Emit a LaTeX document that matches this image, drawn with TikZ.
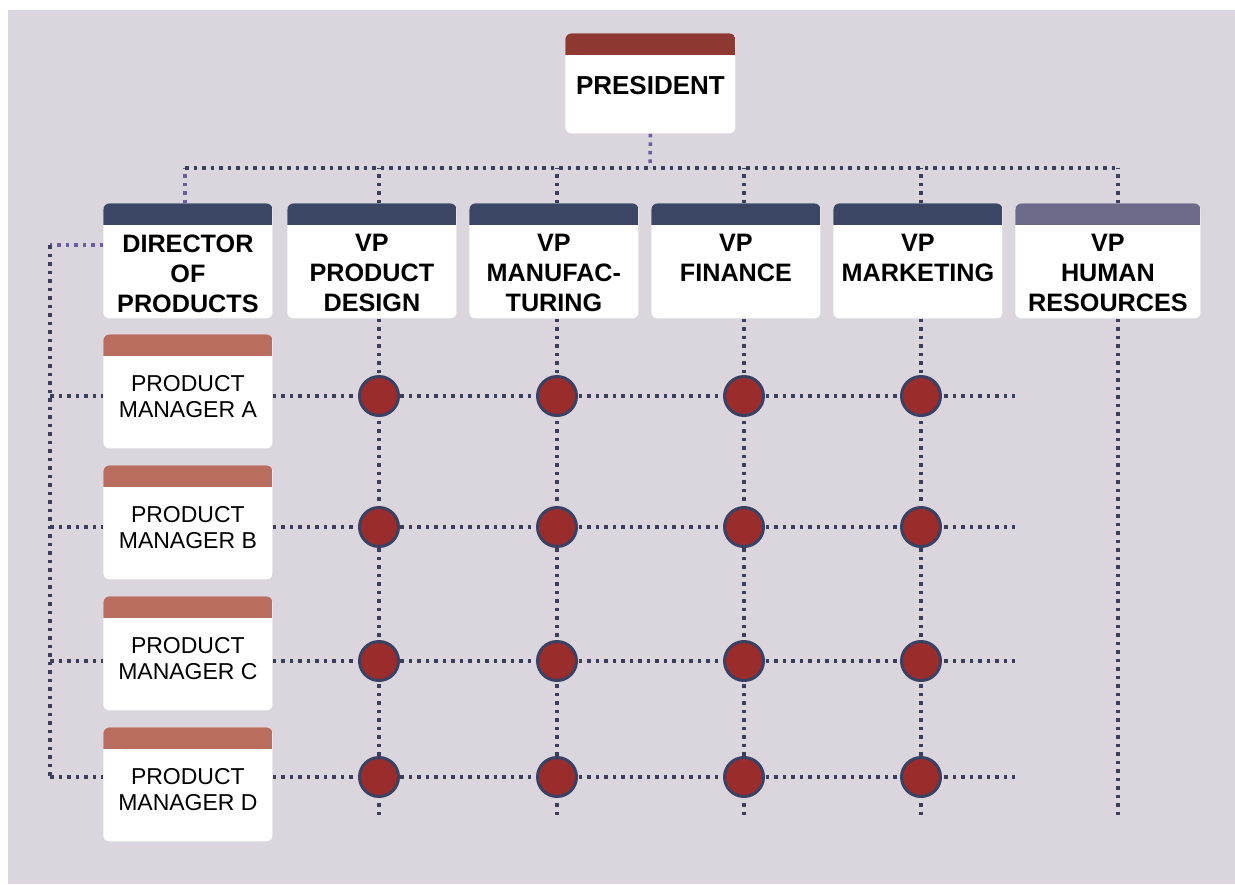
\documentclass[tikz,border=0pt]{standalone}
\usepackage{fontspec}
\setmainfont{Liberation Sans}
\definecolor{bgc}{HTML}{DBD6DE}
\definecolor{presc}{HTML}{8E3832}
\definecolor{vpc}{HTML}{3B4665}
\definecolor{hrc}{HTML}{6C6B8A}
\definecolor{pmc}{HTML}{B86D5E}
\definecolor{dotc}{HTML}{3B3E5C}
\definecolor{linkc}{HTML}{6E5BA6}
\definecolor{crossc}{HTML}{9B2C2C}
\definecolor{ringc}{HTML}{3A4163}
\begin{document}
\begin{tikzpicture}[x=0.5pt,y=-0.5pt,line join=round,
	card/.style={fill=white,rounded corners=3pt,inner sep=0pt,anchor=north west,minimum width=84.5pt,minimum height=57.5pt,
		path picture={\fill[#1,sharp corners] (path picture bounding box.north west) rectangle ([yshift=-11pt]path picture bounding box.north east);}},
	head/.style={anchor=north,yshift=#1,align=center,inner sep=0pt,font=\fontsize{12.6}{15}\selectfont\bfseries},
	head/.default=-15.5pt,
	pmtext/.style={anchor=north,yshift=-20.5pt,align=center,inner sep=0pt,font=\fontsize{11.5}{13}\selectfont},
	dots/.style={draw=dotc,line width=1.75pt,dash pattern=on 1.75pt off 2.5pt},
	link/.style={dots,draw=linkc},
	cross/.style={circle,fill=crossc,draw=ringc,line width=1.5pt,minimum size=19.5pt,inner sep=0pt}]
	\useasboundingbox (0,0) rectangle (1235,884);
	\fill[bgc] (8,10) rectangle (1235,884);
	% president and the vp row
	\node[card=presc,minimum width=85pt,minimum height=50pt,label={[head=-21.5pt,font=\fontsize{13}{15}\selectfont\bfseries]north:PRESIDENT}] (pres) at (565,33) {};
	\node[card=vpc,label={[head]north:DIRECTOR\\OF\\PRODUCTS}] (dir) at (103,203) {};
	\node[card=vpc,label={[head]north:VP\\PRODUCT\\DESIGN}] (vpd) at (287,203) {};
	\node[card=vpc,label={[head]north:VP\\MANUFAC-\\TURING}] (vmf) at (469,203) {};
	\node[card=vpc,label={[head]north:VP\\FINANCE}] (vfn) at (651,203) {};
	\node[card=vpc,label={[head]north:VP\\MARKETING}] (vmk) at (833,203) {};
	\node[card=hrc,minimum width=92.5pt,label={[head]north:VP\\HUMAN\\RESOURCES}] (vhr) at (1015,203) {};
	% product managers
	\foreach \m/\y in {A/334,B/465,C/596,D/727}
		\node[card=pmc,minimum height=57pt,label={[pmtext]north:PRODUCT\\MANAGER \m}] (pm\m) at (103,\y) {};
	% top bus
	\coordinate (bus) at (650,168);
	\draw[link] (pres.south) -- (bus);
	\draw[link] (dir.north -| 185,0) -- (185,168);
	\draw[dots] (185,168) -- (1118,168);
	% columns
	\foreach \n/\x in {vpd/379,vmf/557,vfn/744,vmk/921,vhr/1118}{
		\coordinate (bot-\n) at (\x,815);
		\draw[dots] (\n.north -| bot-\n) -- (\x,168);
		\draw[dots] (\n.south -| bot-\n) -- (bot-\n);
	}
	% rows
	\coordinate (ltop) at (50,245);
	\foreach \m/\y in {A/396,B/527,C/661,D/777}{
		\coordinate (l-\m) at (50,\y);
		\coordinate (r-\m) at (1015,\y);
		\draw[dots] (l-\m) -- (pm\m.west |- l-\m);
		\draw[dots] (pm\m.east |- l-\m) -- (r-\m);
	}
	\draw[link] (dir.west |- ltop) -- (ltop);
	\draw[dots] (ltop) -- (l-D);
	% crossings
	\foreach \m in {A,B,C,D}
		\foreach \n in {vpd,vmf,vfn,vmk}
			\node[cross] (x-\m-\n) at (bot-\n |- l-\m) {};
\end{tikzpicture}
\end{document}
